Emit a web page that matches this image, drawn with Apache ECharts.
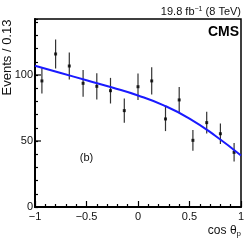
<!DOCTYPE html>
<html>
<head>
<meta charset="utf-8">
<script src="https://cdn.jsdelivr.net/npm/echarts@6/dist/echarts.min.js"></script>
<style>html,body{margin:0;padding:0;background:#fff;}#c{width:249px;height:242px;}</style>
</head>
<body>
<div id="c"></div>
<script>
// Bin centres (cos theta_p), event counts and statistical errors
var binCenters = [-0.933, -0.8, -0.667, -0.533, -0.4, -0.267, -0.133, 0, 0.133, 0.267, 0.4, 0.533, 0.667, 0.8, 0.933];
var counts = [95.5, 115.9, 106.8, 93.7, 91.4, 88.1, 73.0, 91.1, 95.5, 66.7, 81.1, 50.5, 63.9, 55.5, 41.4];
var errors = [9.6, 10.9, 10.3, 10.1, 10.0, 9.7, 9.1, 10.0, 10.3, 9.2, 9.8, 7.8, 8.3, 7.8, 7.0];
// Fit curve
var fitX = [-1, -0.75, -0.5, -0.25, 0, 0.25, 0.5, 0.75, 1];
var fitY = [107, 101.5, 96, 90.5, 84.5, 77, 67, 54, 39];
// Axis tick labels
var xTicks = [-1, -0.5, 0, 0.5, 1];
var yTicks = [0, 50, 100];

var FONT = '"Liberation Sans", Arial, sans-serif';
var pts = binCenters.map(function (x, i) { return [x, counts[i], errors[i]]; });
var fit = fitX.map(function (x, i) { return [x, fitY[i]]; });

var chart = echarts.init(document.getElementById('c'), null, {renderer: 'canvas'});
chart.setOption({
  animation: false,
  grid: {left: 35, right: 8, top: 19, bottom: 35, containLabel: false, outerBoundsMode: 'none', show: true, borderColor: '#000', borderWidth: 1.5},
  xAxis: [{
    type: 'value', min: -1, max: 1, interval: 0.5,
    axisLine: {show: true, onZero: false, lineStyle: {color: '#000', width: 2}},
    axisTick: {show: true, inside: true, length: 6, lineStyle: {color: '#000', width: 1.2}},
    minorTick: {show: true, splitNumber: 5, length: 3, lineStyle: {color: '#000', width: 1.2}},
    splitLine: {show: false},
    axisLabel: {
      margin: 4, color: '#111', fontFamily: FONT, fontSize: 11,
      customValues: xTicks,
      formatter: function (v) { return v < 0 ? '\u2212' + (-v) : String(v); }
    }
  }],
  yAxis: [{
    type: 'value', min: 0, max: 142.4, interval: 10,
    name: 'Events / 0.13',
    nameLocation: 'middle',
    nameRotate: 90,
    nameGap: 21,
    nameMoveOverlap: false,
    nameTextStyle: {fontFamily: FONT, fontSize: 13, color: '#111', padding: [0, 0, 0, 111]},
    axisLine: {show: true, onZero: false, lineStyle: {color: '#000', width: 2}},
    axisTick: {show: true, inside: true, length: 3, lineStyle: {color: '#000', width: 1.2}},
    splitLine: {show: false},
    axisLabel: {margin: 2, color: '#111', fontFamily: FONT, fontSize: 11, customValues: yTicks, hideOverlap: false}
  }],
  series: [{
    // longer major ticks on the y axis at the labelled values
    type: 'custom',
    data: yTicks.map(function (v) { return [-1, v]; }),
    silent: true,
    z: 6,
    renderItem: function (params, api) {
      var p = api.coord([api.value(0), api.value(1)]);
      return {
        type: 'line',
        shape: {x1: p[0], y1: p[1], x2: p[0] + 6, y2: p[1]},
        style: {stroke: '#000', lineWidth: 1.2}
      };
    }
  }, {
    type: 'custom',
    data: pts,
    z: 3,
    renderItem: function (params, api) {
      var x = api.value(0), y = api.value(1), e = api.value(2);
      var top = api.coord([x, y + e]);
      var bot = api.coord([x, y - e]);
      return {
        type: 'line',
        shape: {x1: top[0], y1: top[1], x2: bot[0], y2: bot[1]},
        style: {stroke: '#333', lineWidth: 1.2}
      };
    }
  }, {
    type: 'scatter',
    data: pts.map(function (p) { return [p[0], p[1]]; }),
    symbol: 'rect', symbolSize: 3,
    itemStyle: {color: '#000'},
    z: 4
  }, {
    type: 'line',
    data: fit,
    smooth: true,
    showSymbol: false,
    lineStyle: {color: '#1a1aff', width: 2},
    z: 5
  }],
  graphic: [{
    type: 'text', x: 241, y: 12,
    style: {
      text: '19.8 fb{s|\u22121} (8 TeV)', fontFamily: FONT, fontSize: 11, fill: '#111', align: 'right', verticalAlign: 'middle',
      rich: {s: {fontSize: 7, verticalAlign: 'top', fontFamily: FONT, fill: '#111', padding: [0, 0, 6, 0]}}
    }
  }, {
    type: 'text', x: 239, y: 32,
    style: {text: 'CMS', fontFamily: FONT, fontSize: 14, fontWeight: 'bold', fill: '#000', align: 'right', verticalAlign: 'middle'}
  }, {
    type: 'text', x: 86.5, y: 158,
    style: {text: '(b)', fontFamily: FONT, fontSize: 11, fill: '#111', align: 'center', verticalAlign: 'middle'}
  }, {
    type: 'text', x: 241, y: 231,
    style: {
      text: 'cos \u03b8{s|p}', fontFamily: FONT, fontSize: 12, fill: '#111', align: 'right', verticalAlign: 'middle',
      rich: {s: {fontSize: 8, fontFamily: FONT, fill: '#111', padding: [6, 0, 0, 0]}}
    }
  }]
});
</script>
</body>
</html>
